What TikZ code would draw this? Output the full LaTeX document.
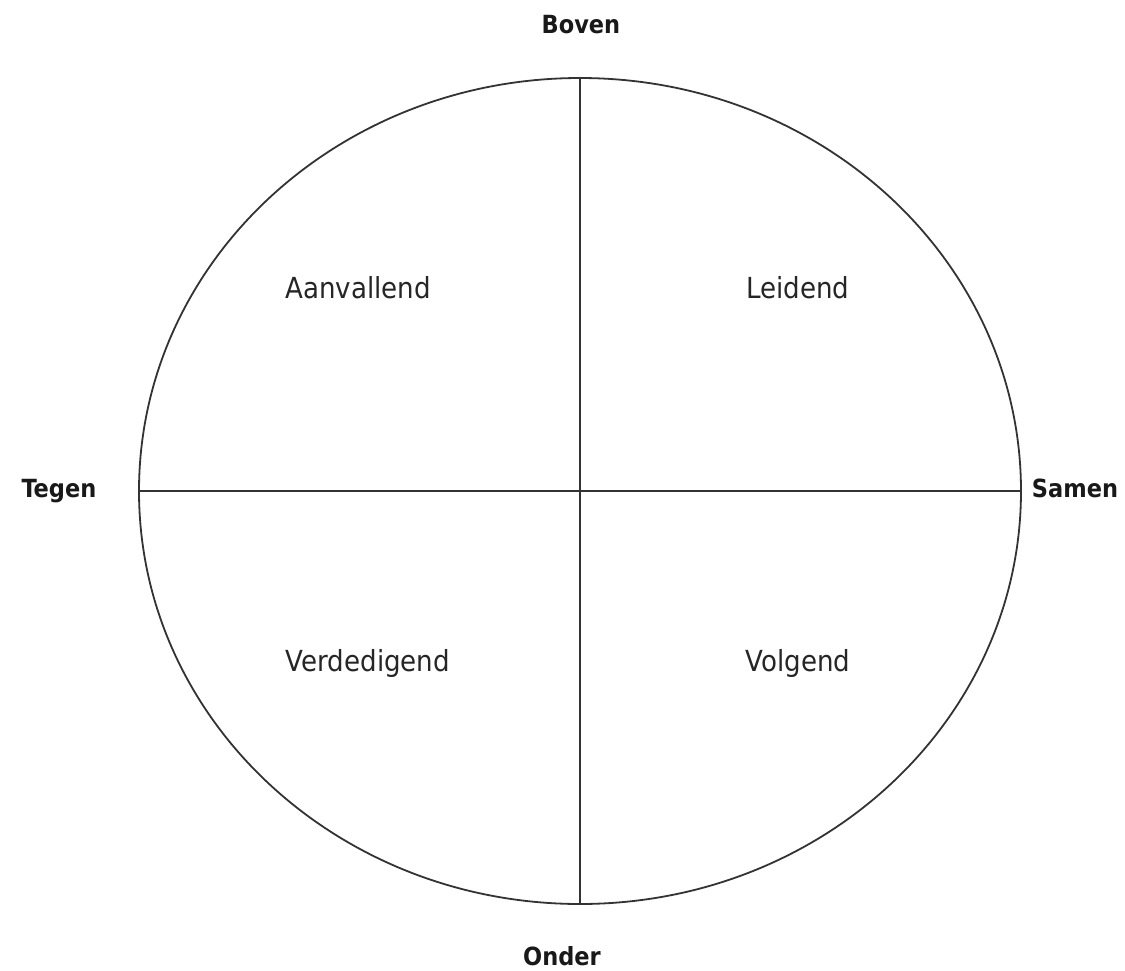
\documentclass[tikz,border=0pt]{standalone}
\usepackage{fontspec}
\setmainfont{DejaVu Sans Condensed}
\begin{document}
\begin{tikzpicture}[x=1pt,y=-1pt,
  quad/.style={anchor=base,font=\fontsize{29}{34}\selectfont,text=black!85},
  axis/.style={anchor=base,font=\bfseries\fontsize{25}{30}\selectfont,text=black!90},
  ln/.style={line width=1.8pt,draw=black!80}]
\useasboundingbox (0,0) rectangle (1125,970);
\coordinate (c) at (580,491);
\draw[ln] (c) ellipse [x radius=441, y radius=413];
\coordinate (top) at (580,78);
\coordinate (bot) at (580,904);
\coordinate (lft) at (139,491);
\coordinate (rgt) at (1021,491);
\draw[ln] (top) -- (bot);
\draw[ln] (lft) -- (rgt);
\node[axis] (boven) at (581,33) {Boven};
\node[axis] (onder) at (562,965) {Onder};
\node[axis] (tegen) at (59,497) {Tegen};
\node[axis] (samen) at (1075,497) {Samen};
\node[quad] (aan) at (358,298) {Aanvallend};
\node[quad] (lei) at (798,298) {Leidend};
\node[quad] (ver) at (368,671) {Verdedigend};
\node[quad] (vol) at (798,671) {Volgend};
\end{tikzpicture}
\end{document}
